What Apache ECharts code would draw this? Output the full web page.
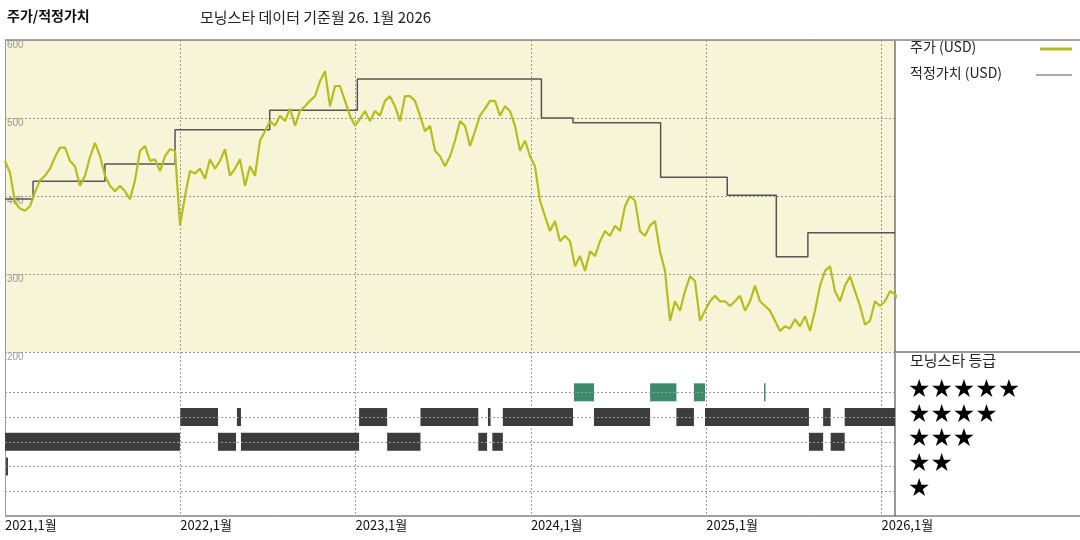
<!DOCTYPE html>
<html>
<head>
<meta charset="utf-8">
<script src="https://cdn.jsdelivr.net/npm/echarts@6/dist/echarts.min.js"></script>
<style>
  html, body { margin: 0; padding: 0; background: #fff; }
  #chart { width: 1080px; height: 540px; }
</style>
</head>
<body>
<div id="chart"></div>
<script>
// price sampled on a regular grid, starting 2021.0
const priceStart = 2021.0;
const priceStep = 5 / 175.3; // years between samples
const priceValues = [
  445, 430, 392, 384, 381, 387, 405, 420, 426, 435, 450, 462, 462, 445, 438, 413, 426, 450, 468, 451,
  426, 413, 406, 413, 406, 396, 420, 458, 464, 445, 447, 432, 451, 460, 458, 362, 400, 432, 429, 435,
  422, 447, 435, 445, 460, 426, 435, 447, 413, 438, 426, 471, 483, 496, 490, 503, 496, 512, 490, 509,
  515, 522, 528, 547, 560, 515, 541, 541, 522, 503, 490, 499, 509, 496, 509, 503, 522, 528, 515, 496,
  528, 528, 522, 503, 483, 490, 458, 451, 438, 451, 471, 496, 490, 464, 483, 503, 512, 522, 522, 503,
  515, 509, 490, 458, 471, 451, 438, 394, 374, 355, 368, 342, 349, 342, 310, 323, 304, 329, 323, 342,
  355, 349, 362, 355, 387, 400, 394, 355, 349, 362, 368, 329, 304, 240, 265, 253, 278, 297, 291, 240,
  253, 265, 272, 265, 265, 259, 265, 272, 253, 265, 285, 265, 259, 253, 240, 227, 233, 230, 242, 233,
  246, 227, 253, 285, 304, 310, 278, 265, 285, 297, 278, 259, 235, 240, 265, 259, 265, 278, 274, 265
];

// fair value: year it starts, value
const fairDates = [2021.0, 2021.16, 2021.57, 2021.97, 2022.51, 2023.01, 2024.06, 2024.24, 2024.74, 2025.12, 2025.40, 2025.58, 2026.077];
const fairValues = [396, 419, 441, 485, 510, 550, 500, 494, 424, 401, 322, 353, 353];

// star rating periods: [from, to, stars]
const ratingPeriods = [
  [2021.0, 2021.998, 3], [2021.006, 2021.017, 2],
  [2022.0, 2022.215, 4], [2022.215, 2022.318, 3], [2022.323, 2022.346, 4], [2022.346, 2023.02, 3],
  [2023.02, 2023.18, 4], [2023.18, 2023.37, 3], [2023.37, 2023.70, 4], [2023.70, 2023.75, 3],
  [2023.755, 2023.77, 4], [2023.78, 2023.84, 3], [2023.84, 2024.24, 4],
  [2024.246, 2024.36, 5], [2024.36, 2024.68, 4], [2024.68, 2024.83, 5], [2024.83, 2024.93, 4],
  [2024.93, 2024.993, 5], [2024.993, 2025.586, 4], [2025.33, 2025.336, 5],
  [2025.586, 2025.667, 3], [2025.667, 2025.71, 4], [2025.71, 2025.79, 3], [2025.79, 2026.077, 4]
];

const yearTicks = [2021, 2022, 2023, 2024, 2025, 2026];
const starRows = [5, 4, 3, 2, 1];

const xMin = 2021, xMax = 2026.077;
const priceData = priceValues.map((v, i) => [priceStart + i * priceStep, v]);
const fairData = fairDates.map((d, i) => [d, fairValues[i]]);

const chart = echarts.init(document.getElementById("chart"));
const dash = { type: [2, 2], color: "#999", width: 1 };
const font = "'Noto Sans CJK KR', sans-serif";

const legendGraphics = [
  { type: "text", left: 7, top: 9, style: { text: "주가/적정가치", font: "bold 14px " + font, fill: "#111" } },
  { type: "text", left: 200, top: 10, style: { text: "모닝스타 데이터 기준월 26. 1월 2026", font: "15px " + font, fill: "#222" } },
  // frame
  { type: "line", shape: { x1: 5, y1: 40, x2: 1080, y2: 40 }, style: { stroke: "#444", lineWidth: 1 } },
  { type: "line", shape: { x1: 895, y1: 40, x2: 895, y2: 516 }, style: { stroke: "#333", lineWidth: 1 } },
  { type: "line", shape: { x1: 895, y1: 352, x2: 1080, y2: 352 }, style: { stroke: "#333", lineWidth: 1 } },
  { type: "line", shape: { x1: 5, y1: 516, x2: 1080, y2: 516 }, style: { stroke: "#444", lineWidth: 1 } },
  { type: "text", left: 910, top: 40, style: { text: "주가 (USD)", font: "14px " + font, fill: "#222" } },
  { type: "line", shape: { x1: 1040, y1: 49, x2: 1072, y2: 49 }, style: { stroke: "#b5bd1f", lineWidth: 3 } },
  { type: "text", left: 910, top: 66, style: { text: "적정가치 (USD)", font: "14px " + font, fill: "#222" } },
  { type: "line", shape: { x1: 1036, y1: 75, x2: 1072, y2: 75 }, style: { stroke: "#555", lineWidth: 1 } },
  { type: "text", left: 910, top: 353, style: { text: "모닝스타 등급", font: "15px " + font, fill: "#222" } }
];
starRows.forEach((s, i) => {
  legendGraphics.push({
    type: "text", left: 908, top: 378 + i * 24.7,
    style: { text: "★".repeat(s), font: "25px 'DejaVu Sans', sans-serif", fill: "#000" }
  });
});

const xAxisBase = {
  type: "value", min: xMin, max: xMax, interval: 1,
  axisTick: { show: false },
  splitLine: { show: true, lineStyle: dash }
};

chart.setOption({
  animation: false,
  graphic: legendGraphics,
  grid: [
    { left: 5, width: 890, top: 40, height: 312, show: true, backgroundColor: "#f8f4d8", borderColor: "#aaa", borderWidth: 0 },
    { left: 5, width: 890, top: 352, height: 164 }
  ],
  xAxis: [
    { ...xAxisBase, gridIndex: 0, axisLine: { show: false }, axisLabel: { show: false } },
    {
      ...xAxisBase, gridIndex: 1,
      axisLine: { show: false },
      axisLabel: {
        show: true, color: "#111", fontSize: 13, fontFamily: font, align: "left", margin: 3,
        showMaxLabel: false, formatter: (v) => v + ",1월"
      }
    }
  ],
  yAxis: [
    {
      type: "value", gridIndex: 0, min: 200, max: 600, interval: 100,
      axisLine: { show: true, lineStyle: dash }, axisTick: { show: false },
      splitLine: { show: true, lineStyle: dash },
      axisLabel: { inside: true, color: "#999", fontSize: 10, verticalAlign: "top", margin: 2, showMinLabel: true }
    },
    {
      type: "value", gridIndex: 1, min: 0, max: 6.63, interval: 1,
      axisLine: { show: true, lineStyle: dash }, axisTick: { show: false },
      splitLine: { show: false },
      axisLabel: { show: false }
    }
  ],
  series: [
    {
      name: "적정가치", type: "line", xAxisIndex: 0, yAxisIndex: 0,
      data: fairData, step: "end", symbol: "none",
      lineStyle: { color: "#555", width: 1.5 }
    },
    {
      name: "주가", type: "line", xAxisIndex: 0, yAxisIndex: 0,
      data: priceData, symbol: "none",
      lineStyle: { color: "#b5bd1f", width: 2.2 }
    },
    {
      type: "custom", xAxisIndex: 1, yAxisIndex: 1,
      data: ratingPeriods,
      renderItem: (params, api) => {
        const a = api.coord([api.value(0), api.value(2)]);
        const b = api.coord([api.value(1), api.value(2)]);
        const five = api.value(2) === 5;
        return {
          type: "rect",
          shape: { x: a[0], y: a[1] - 9, width: Math.max(b[0] - a[0], 1.5), height: 18 },
          style: { fill: five ? "#3f8a6c" : "#3c3c3c" }
        };
      },
      markLine: {
        silent: true, symbol: "none", label: { show: false },
        lineStyle: dash,
        data: starRows.map((s) => ({ yAxis: s }))
      },
      z: 3
    }
  ]
});
</script>
</body>
</html>
